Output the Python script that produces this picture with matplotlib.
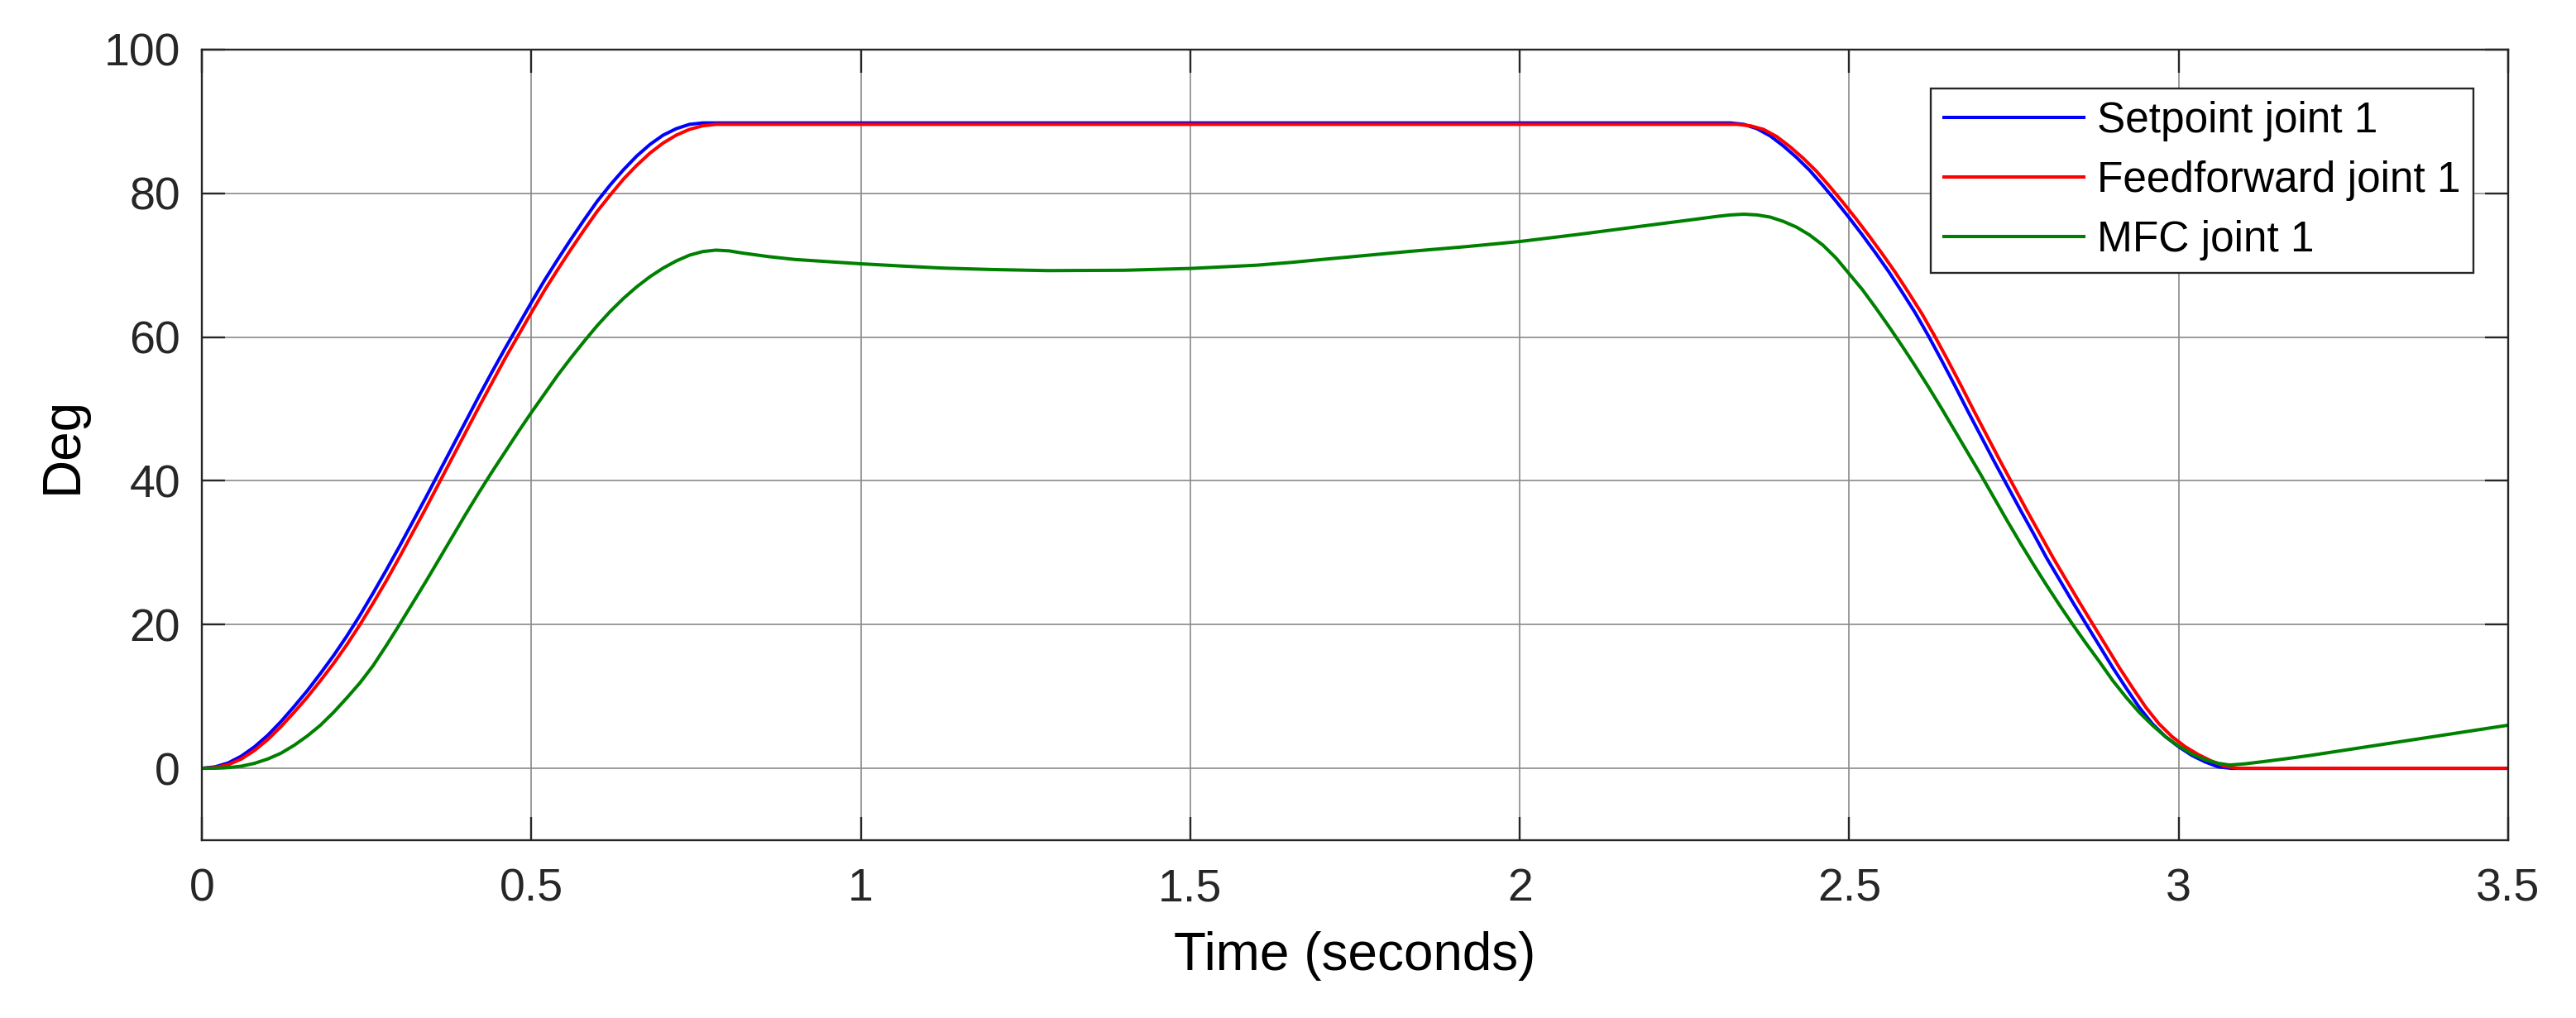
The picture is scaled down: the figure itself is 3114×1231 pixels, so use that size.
import matplotlib
matplotlib.use("Agg")
import matplotlib.pyplot as plt

# ---------------- data ----------------
t_setpoint = [0.00, 0.02, 0.04, 0.06, 0.08, 0.10, 0.12, 0.14, 0.16, 0.18, 0.20, 0.22,
              0.24, 0.26, 0.28, 0.30, 0.32, 0.34, 0.36, 0.38, 0.40, 0.42, 0.44, 0.46,
              0.48, 0.50, 0.52, 0.54, 0.56, 0.58, 0.60, 0.62, 0.64, 0.66, 0.68, 0.70,
              0.72, 0.74, 0.76, 0.78, 1.00, 1.50, 2.00, 2.30, 2.32, 2.34, 2.36, 2.38,
              2.40, 2.42, 2.44, 2.46, 2.48, 2.50, 2.52, 2.54, 2.56, 2.58, 2.60, 2.62,
              2.64, 2.66, 2.68, 2.70, 2.72, 2.74, 2.76, 2.78, 2.80, 2.82, 2.84, 2.86,
              2.88, 2.90, 2.92, 2.94, 2.96, 2.98, 3.00, 3.02, 3.04, 3.06, 3.08, 3.50]
setpoint = [0.0, 0.2, 0.75, 1.7, 3.0, 4.6, 6.5, 8.6, 10.8, 13.2, 15.7, 18.4,
            21.3, 24.4, 27.6, 30.9, 34.3, 37.7, 41.2, 44.7, 48.2, 51.7, 55.1, 58.4,
            61.6, 64.8, 67.9, 70.8, 73.6, 76.3, 78.9, 81.2, 83.3, 85.2, 86.8, 88.1,
            89.0, 89.6, 89.8, 89.8, 89.8, 89.8, 89.8, 89.8, 89.8, 89.6, 89.0, 88.0,
            86.6, 85.0, 83.2, 81.1, 78.9, 76.6, 74.2, 71.7, 69.1, 66.3, 63.4, 60.2,
            56.8, 53.3, 49.7, 46.2, 42.7, 39.3, 35.9, 32.6, 29.2, 26.1, 23.0, 20.0,
            17.0, 14.0, 11.2, 8.5, 6.2, 4.4, 3.0, 1.8, 0.9, 0.2, 0.0, 0.0]

t_feedforward = [0.00, 0.02, 0.04, 0.06, 0.08, 0.10, 0.12, 0.14, 0.16, 0.18, 0.20,
                 0.22, 0.24, 0.26, 0.28, 0.30, 0.32, 0.34, 0.36, 0.38, 0.40, 0.42,
                 0.44, 0.46, 0.48, 0.50, 0.52, 0.54, 0.56, 0.58, 0.60, 0.62, 0.64,
                 0.66, 0.68, 0.70, 0.72, 0.74, 0.76, 0.78, 0.80, 1.50, 2.30, 2.33,
                 2.35, 2.37, 2.39, 2.41, 2.43, 2.45, 2.47, 2.49, 2.51, 2.53, 2.55,
                 2.57, 2.59, 2.61, 2.63, 2.65, 2.67, 2.69, 2.71, 2.73, 2.75, 2.77,
                 2.79, 2.81, 2.83, 2.85, 2.87, 2.89, 2.91, 2.93, 2.95, 2.97, 2.99,
                 3.01, 3.03, 3.05, 3.07, 3.09, 3.50]
feedforward = [0.0, 0.1, 0.5, 1.3, 2.5, 4.0, 5.8, 7.8, 9.9, 12.2, 14.6,
               17.2, 20.0, 23.0, 26.1, 29.4, 32.8, 36.2, 39.7, 43.2, 46.7, 50.2,
               53.6, 57.0, 60.2, 63.4, 66.5, 69.4, 72.2, 74.9, 77.5, 79.8, 82.0,
               83.9, 85.6, 87.0, 88.1, 88.9, 89.4, 89.6, 89.6, 89.6, 89.6, 89.6,
               89.4, 88.9, 87.9, 86.5, 84.9, 83.1, 81.0, 78.8, 76.5, 74.1, 71.6,
               69.0, 66.2, 63.3, 60.1, 56.7, 53.2, 49.6, 46.1, 42.6, 39.2, 35.8,
               32.5, 29.2, 26.1, 23.0, 20.0, 17.0, 14.0, 11.2, 8.5, 6.2, 4.4,
               3.0, 1.9, 1.0, 0.3, 0.0, 0.0]

t_mfc = [0.00, 0.02, 0.04, 0.06, 0.08, 0.10, 0.12, 0.14, 0.16, 0.18, 0.20, 0.22,
         0.24, 0.26, 0.28, 0.30, 0.32, 0.34, 0.36, 0.38, 0.40, 0.42, 0.44, 0.46,
         0.48, 0.50, 0.52, 0.54, 0.56, 0.58, 0.60, 0.62, 0.64, 0.66, 0.68, 0.70,
         0.72, 0.74, 0.76, 0.78, 0.80, 0.82, 0.86, 0.90, 0.95, 1.00, 1.06, 1.125,
         1.20, 1.284, 1.40, 1.50, 1.60, 1.654, 1.70, 1.83, 1.92, 2.00, 2.09, 2.182,
         2.25, 2.30, 2.32, 2.34, 2.36, 2.38, 2.40, 2.42, 2.44, 2.46, 2.48, 2.50,
         2.52, 2.54, 2.56, 2.58, 2.60, 2.62, 2.64, 2.66, 2.68, 2.70, 2.72, 2.74,
         2.76, 2.78, 2.80, 2.82, 2.84, 2.86, 2.88, 2.90, 2.92, 2.94, 2.96, 2.98,
         3.00, 3.02, 3.04, 3.06, 3.077, 3.10, 3.13, 3.16, 3.20, 3.25, 3.30, 3.35,
         3.40, 3.45, 3.50]
mfc = [0.0, 0.02, 0.1, 0.3, 0.7, 1.3, 2.1, 3.2, 4.5, 6.0, 7.8, 9.8,
       11.9, 14.3, 17.1, 20.0, 23.0, 26.0, 29.1, 32.2, 35.3, 38.3, 41.2, 44.0,
       46.8, 49.5, 52.1, 54.7, 57.1, 59.4, 61.6, 63.6, 65.4, 67.0, 68.4, 69.6,
       70.6, 71.4, 71.9, 72.1, 72.0, 71.7, 71.2, 70.8, 70.5, 70.2, 69.9, 69.6,
       69.4, 69.25, 69.3, 69.55, 70.0, 70.4, 70.8, 71.9, 72.6, 73.3, 74.3, 75.4,
       76.2, 76.8, 77.0, 77.1, 77.0, 76.7, 76.1, 75.3, 74.2, 72.8, 71.0, 68.8,
       66.6, 64.1, 61.5, 58.8, 56.0, 53.1, 50.1, 47.0, 43.9, 40.8, 37.6, 34.4,
       31.3, 28.3, 25.4, 22.6, 19.9, 17.3, 14.8, 12.2, 9.9, 7.8, 6.0, 4.4,
       3.1, 2.0, 1.2, 0.7, 0.46, 0.62, 0.95, 1.3, 1.8, 2.5, 3.2, 3.9,
       4.6, 5.3, 6.0]

series_labels = ["Setpoint joint 1", "Feedforward joint 1", "MFC joint 1"]
x_ticks = [0, 0.5, 1, 1.5, 2, 2.5, 3, 3.5]
x_tick_labels = ["0", "0.5", "1", "1.5", "2", "2.5", "3", "3.5"]
y_ticks = [0, 20, 40, 60, 80, 100]

# ---------------- figure ----------------
plt.rcParams['font.family'] = ['Liberation Sans', 'DejaVu Sans']

fig = plt.figure(figsize=(31.14, 12.31), dpi=100)
ax = fig.add_axes([0.07836, 0.17466, 0.89531, 0.7766])

lw = 2.9
ax.plot(t_setpoint, setpoint, color='#0000ff', lw=lw, label=series_labels[0],
        zorder=3, solid_joinstyle='round')
ax.plot(t_feedforward, feedforward, color='#ff0000', lw=lw, label=series_labels[1],
        zorder=4, solid_joinstyle='round')
ax.plot(t_mfc, mfc, color='#008000', lw=lw, label=series_labels[2],
        zorder=5, solid_joinstyle='round')

ax.set_xlim(0, 3.5)
ax.set_ylim(-10, 100)
ax.set_xticks(x_ticks)
ax.set_xticklabels(x_tick_labels)
ax.set_yticks(y_ticks)

dark = '#262626'
ax.grid(True, color='#8a8a8a', linewidth=1.2, alpha=1.0, zorder=0)
ax.set_axisbelow(True)
for s in ax.spines.values():
    s.set_color(dark)
    s.set_linewidth(1.7)
    s.set_zorder(6)

ax.tick_params(axis='both', direction='in', length=20, width=1.7, color=dark,
               labelcolor=dark, labelsize=40, top=True, right=True)
ax.tick_params(axis='x', pad=24)
ax.tick_params(axis='y', pad=18.7)

ax.set_xlabel("Time (seconds)", fontsize=46, color='black', labelpad=18)
ax.set_ylabel("Deg", fontsize=46, color='black', labelpad=14)

leg = ax.legend(loc='upper right', bbox_to_anchor=(0.98494, 0.9508), borderaxespad=0,
                fontsize=37, frameon=True, fancybox=False, shadow=False,
                handlelength=3.29, handletextpad=0.32, borderpad=0.3,
                labelspacing=0.44)
leg.get_frame().set_edgecolor(dark)
leg.get_frame().set_linewidth(1.7)
leg.get_frame().set_facecolor('white')
leg.get_frame().set_alpha(1.0)
leg.set_zorder(10)

fig.savefig("out.png", dpi=100, facecolor='white')
